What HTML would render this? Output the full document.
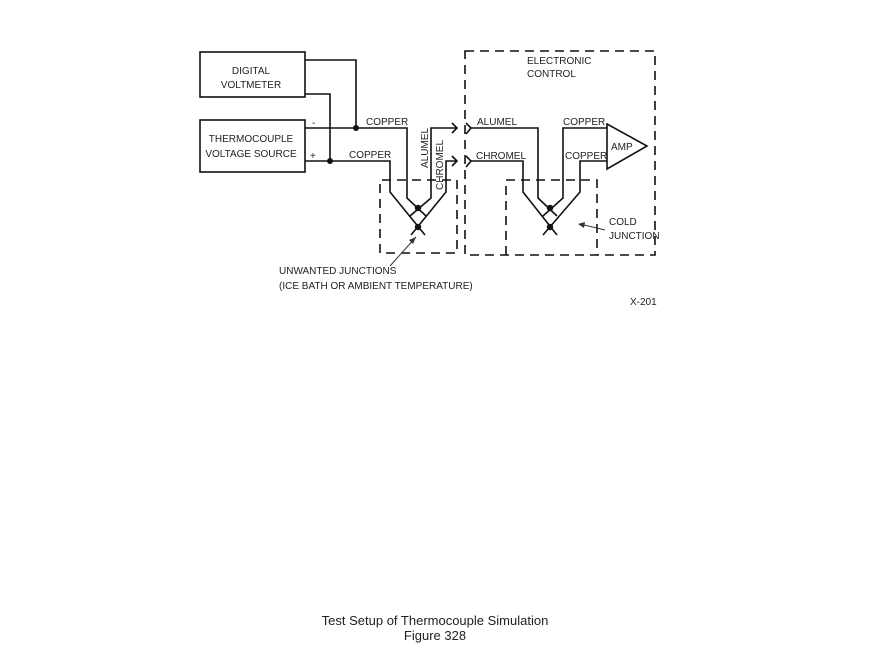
<!DOCTYPE html>
<html><head><meta charset="utf-8"><style>
body{margin:0;background:#fff;}
svg{display:block;font-family:"Liberation Sans",sans-serif;}
text{fill:#222;font-size:10px;}
</style></head><body>
<svg width="872" height="650" viewBox="0 0 872 650">
<g stroke="#111" stroke-width="1.6" fill="none">
<rect x="200" y="52" width="105" height="45"/>
<rect x="200" y="120" width="105" height="52"/>
<polyline points="305,60 356,60 356,128"/>
<polyline points="305,94 330,94 330,161"/>
<polyline points="305,128 407,128 407,198 426,216"/>
<polyline points="457,128 431,128 431,198 410,216"/>
<polyline points="305,161 390,161 390,192 425,235"/>
<polyline points="457,161 446,161 446,192 411,235"/>
<polyline points="452,123 457,128 452,133"/>
<polyline points="452,156 457,161 452,166"/>
<polyline points="466,123 471,128 466,134"/>
<polyline points="466,156 471,161 466,167"/>
<polyline points="471,128 538,128 538,198 557,216"/>
<polyline points="607,128 563,128 563,198 543,216"/>
<polyline points="471,161 523,161 523,192 557,235"/>
<polyline points="607,161 580,161 580,192 543,235"/>
<polygon points="607,124 647,146 607,169"/>
</g>
<g fill="#111">
<circle cx="356" cy="128" r="3"/><circle cx="330" cy="161" r="3"/>
<circle cx="418" cy="208" r="3.2"/><circle cx="418" cy="227" r="3.2"/>
<circle cx="550" cy="208" r="3.2"/><circle cx="550" cy="227" r="3.2"/>
</g>
<g stroke="#111" stroke-width="1.6" fill="none" stroke-dasharray="9,6">
<polyline points="380,253 380,180 457,180 457,253 380,253"/>
<rect x="465" y="51" width="190" height="204"/>
<polyline points="506,255 506,180 597,180 597,255"/>
</g>
<g stroke="#333" stroke-width="1" fill="none">
<line x1="390" y1="266" x2="416" y2="237"/>
<line x1="605" y1="230" x2="580" y2="224"/>
</g>
<polygon points="416,237 409,240 413,244" fill="#333"/>
<polygon points="578,224 585,222 584,228" fill="#333"/>
<text x="251" y="74" text-anchor="middle">DIGITAL</text>
<text x="251" y="88" text-anchor="middle">VOLTMETER</text>
<text x="251" y="142" text-anchor="middle">THERMOCOUPLE</text>
<text x="251" y="157" text-anchor="middle">VOLTAGE SOURCE</text>
<text x="312" y="126" font-size="8">-</text>
<text x="310" y="159" font-size="8">+</text>
<text x="366" y="125">COPPER</text>
<text x="349" y="158">COPPER</text>
<text transform="translate(428,168) rotate(-90)">ALUMEL</text>
<text transform="translate(443,190) rotate(-90)">CHROMEL</text>
<text x="477" y="125">ALUMEL</text>
<text x="476" y="159">CHROMEL</text>
<text x="563" y="125">COPPER</text>
<text x="565" y="159">COPPER</text>
<text x="611" y="150">AMP</text>
<text x="527" y="64">ELECTRONIC</text>
<text x="527" y="77">CONTROL</text>
<text x="609" y="225">COLD</text>
<text x="609" y="239">JUNCTION</text>
<text x="279" y="274">UNWANTED JUNCTIONS</text>
<text x="279" y="289">(ICE BATH OR AMBIENT TEMPERATURE)</text>
<text x="630" y="305">X-201</text>
<text x="435" y="625" text-anchor="middle" style="font-size:13px">Test Setup of Thermocouple Simulation</text>
<text x="435" y="640" text-anchor="middle" style="font-size:13px">Figure 328</text>
</svg>
</body></html>
